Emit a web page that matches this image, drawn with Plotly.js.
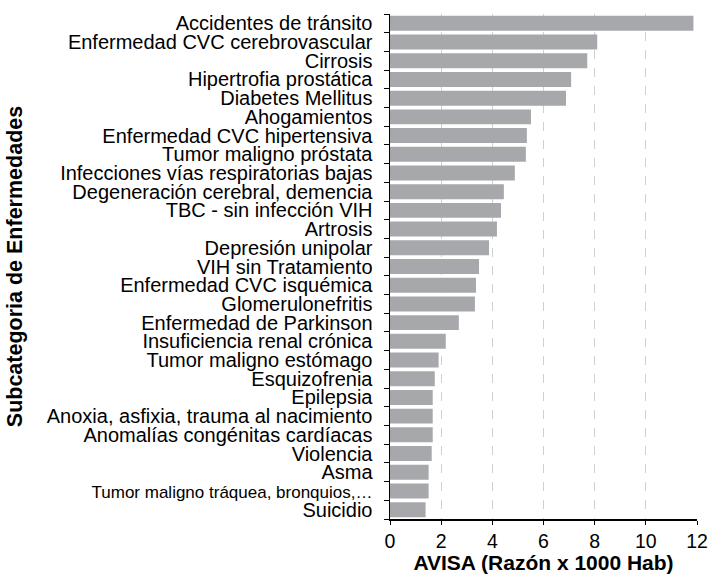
<!DOCTYPE html>
<html>
<head>
<meta charset="utf-8">
<script src="https://cdn.plot.ly/plotly-3.0.1.min.js"></script>
<style>html,body{margin:0;padding:0;background:#fff;}#chart{width:709px;height:574px;}</style>
</head>
<body>
<div id="chart"></div>
<script>
const categories = [
  "Accidentes de tránsito",
  "Enfermedad CVC cerebrovascular",
  "Cirrosis",
  "Hipertrofia prostática",
  "Diabetes Mellitus",
  "Ahogamientos",
  "Enfermedad CVC hipertensiva",
  "Tumor maligno próstata",
  "Infecciones vías respiratorias bajas",
  "Degeneración cerebral, demencia",
  "TBC - sin infección VIH",
  "Artrosis",
  "Depresión unipolar",
  "VIH sin Tratamiento",
  "Enfermedad CVC isquémica",
  "Glomerulonefritis",
  "Enfermedad de Parkinson",
  "Insuficiencia renal crónica",
  "Tumor maligno estómago",
  "Esquizofrenia",
  "Epilepsia",
  "Anoxia, asfixia, trauma al nacimiento",
  "Anomalías congénitas cardíacas",
  "Violencia",
  "Asma",
  "Tumor maligno tráquea, bronquios,…",
  "Suicidio"
];
const avisa = [11.86, 8.10, 7.71, 7.08, 6.88, 5.51, 5.35, 5.31, 4.88, 4.45,
  4.34, 4.18, 3.87, 3.48, 3.36, 3.32, 2.69, 2.18, 1.90, 1.75,
  1.67, 1.67, 1.67, 1.63, 1.51, 1.51, 1.39];
const xTicks = [0, 2, 4, 6, 8, 10, 12];

const tickText = categories.map(c => c.endsWith('…') ? '<span style="font-size:17px">' + c + '</span>' : c);

const trace = {
  type: 'bar',
  orientation: 'h',
  y: categories,
  x: avisa,
  marker: {color: '#a7a8ab', line: {width: 0}},
  hoverinfo: 'x+y'
};

const layout = {
  width: 709,
  height: 574,
  margin: {l: 390, r: 12, t: 14, b: 55},
  paper_bgcolor: '#ffffff',
  plot_bgcolor: '#ffffff',
  font: {family: 'Liberation Sans, Arial, sans-serif', color: '#000000', size: 20},
  bargap: 0.2,
  showlegend: false,
  xaxis: {
    range: [0, 12],
    tickvals: xTicks,
    ticktext: xTicks.map(String),
    showgrid: true,
    gridcolor: '#d0d0d0',
    griddash: 'dash',
    gridwidth: 1,
    zeroline: false,
    showline: true,
    linecolor: '#000000',
    linewidth: 1.5,
    ticks: 'outside',
    ticklen: 4,
    tickcolor: '#000000',
    tickfont: {size: 19.5},
    title: {text: '<b>AVISA (Razón x 1000 Hab)</b>', font: {size: 21}, standoff: 7}
  },
  yaxis: {
    type: 'category',
    autorange: 'reversed',
    tickvals: categories,
    ticktext: tickText,
    tickson: 'boundaries',
    ticks: 'outside',
    ticklen: 5,
    tickcolor: '#000000',
    showgrid: false,
    zeroline: false,
    showline: true,
    linecolor: '#000000',
    linewidth: 1.5,
    tickfont: {size: 20},
    ticklabelstandoff: 12,
    title: {text: '<b>Subcategoria de Enfermedades</b>', font: {size: 21.5}, standoff: 18}
  }
};

Plotly.newPlot('chart', [trace], layout, {displayModeBar: false, staticPlot: true});
</script>
</body>
</html>
